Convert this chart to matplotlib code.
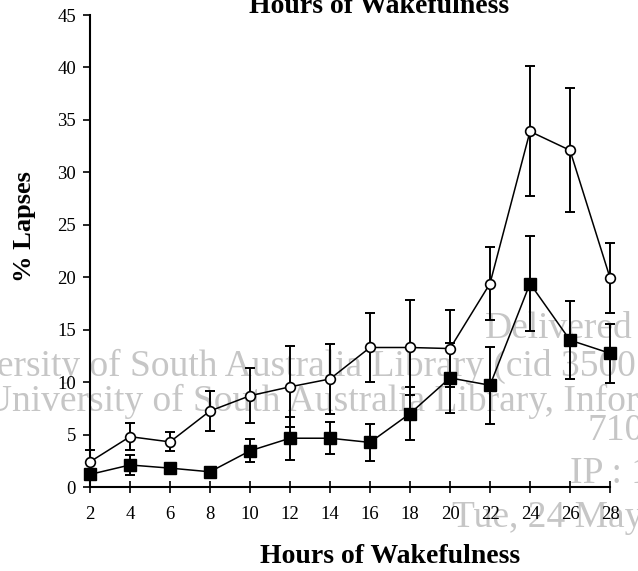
import matplotlib
matplotlib.use("Agg")
import matplotlib.pyplot as plt

hours = [2, 4, 6, 8, 10, 12, 14, 16, 18, 20, 22, 24, 26, 28]
open_mean = [2.4, 4.8, 4.3, 7.25, 8.7, 9.55, 10.3, 13.3, 13.3, 13.2, 19.4, 33.9, 32.1, 19.95]
open_err = [1.1, 1.3, 0.9, 1.95, 2.6, 3.85, 3.3, 3.3, 4.5, 3.7, 3.5, 6.2, 5.9, 3.35]
filled_mean = [1.2, 2.1, 1.8, 1.45, 3.45, 4.65, 4.65, 4.25, 7.0, 10.4, 9.7, 19.4, 14.0, 12.75]
filled_err = [0.5, 0.95, 0.4, 0.3, 1.1, 2.05, 1.5, 1.8, 2.5, 3.3, 3.65, 4.55, 3.7, 2.8]
yticks = [0, 5, 10, 15, 20, 25, 30, 35, 40, 45]

W, H = 638, 571
plt.rcParams['font.family'] = ['Liberation Serif', 'DejaVu Serif']
fig = plt.figure(figsize=(W / 100, H / 100), dpi=100)
ax = fig.add_axes([90 / W, 1 - 487 / H, 520 / W, 472 / H])
ax.patch.set_alpha(0)

def px(x, y):
    return x / W, 1 - y / H

# watermark (under data)
wm = dict(color='#c6c6c6', fontsize=27, zorder=-5, ha='left', va='baseline')
fig.text(*px(485, 338), 'Delivered', **wm)
fig.text(*px(-78, 376), 'University of South Australia Library (cid 35001', **wm)
fig.text(*px(-15, 411), 'University of South Australia Library, Infor', **wm)
fig.text(*px(588, 440), '710', **wm)
fig.text(*px(570, 483), 'IP : 1', **wm)
fig.text(*px(452, 527), 'Tue, 24 May', **wm)

ekw = dict(ecolor='black', elinewidth=1.4, capsize=3.5, capthick=1.4, clip_on=False)
ax.errorbar(hours, open_mean, yerr=open_err, fmt='none', zorder=2, **ekw)
ax.errorbar(hours, filled_mean, yerr=filled_err, fmt='none', zorder=2, **ekw)
ax.plot(hours, open_mean, color='black', lw=1.1, marker='o', ms=7,
        mfc='white', mec='black', mew=1.2, zorder=4, clip_on=False)
ax.plot(hours, filled_mean, color='black', lw=1.1, marker='s', ms=8,
        mfc='black', mec='black', zorder=4, clip_on=False)

ax.set_xlim(2, 28)
ax.set_ylim(0, 45)
ax.set_xticks(hours)
ax.set_yticks(yticks)
for s in ['top', 'right']:
    ax.spines[s].set_visible(False)
for s in ['left', 'bottom']:
    ax.spines[s].set_linewidth(1.5)
ax.tick_params(axis='y', direction='out', length=5, width=1.2, labelsize=13.5, pad=5)
ax.tick_params(axis='x', direction='inout', length=8, width=1.2, labelsize=13.5, pad=10)

fig.text(*px(25, 227), '% Lapses', rotation=90, fontsize=19, fontweight='bold',
         ha='center', va='center')
fig.text(*px(390, 563), 'Hours of Wakefulness', fontsize=20, fontweight='bold',
         ha='center', va='baseline')
fig.text(*px(379, 13), 'Hours of Wakefulness', fontsize=20, fontweight='bold',
         ha='center', va='baseline')

fig.savefig('out.png', dpi=100)
